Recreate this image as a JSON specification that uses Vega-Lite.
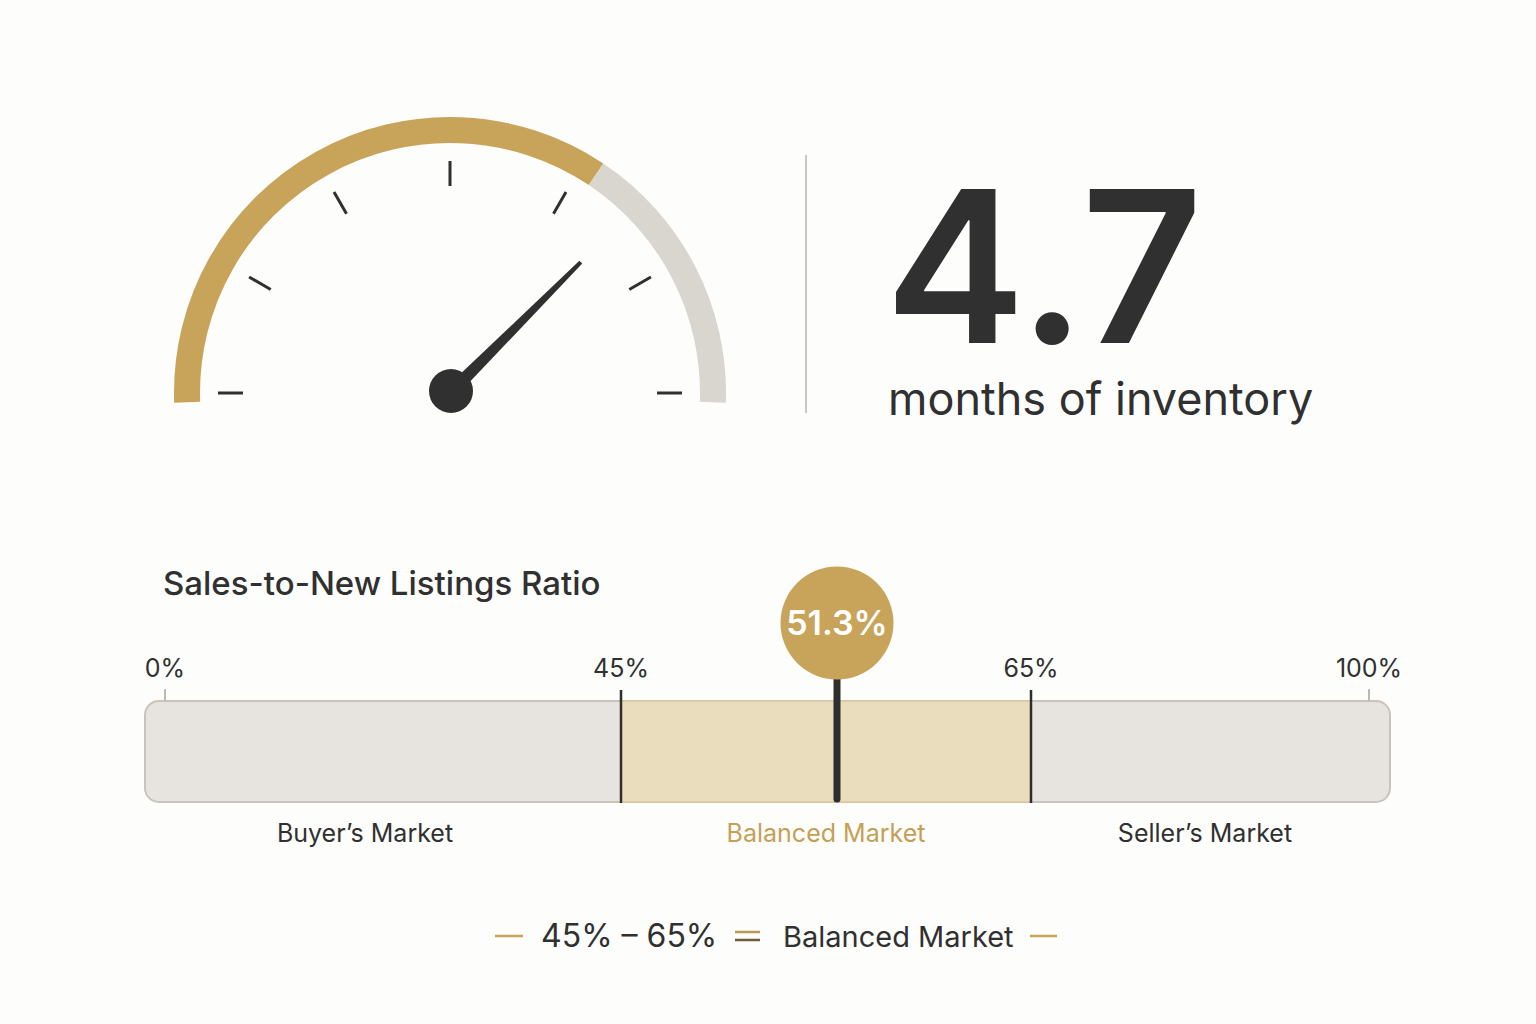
{
  "$schema": "https://vega.github.io/schema/vega-lite/v6.json",
  "width": 1536,
  "height": 1024,
  "padding": 0,
  "autosize": {"type": "fit", "contains": "padding"},
  "background": "#fdfdfc",
  "config": {"view": {"stroke": null}, "font": "Inter", "text": {"font": "Inter"}},
  "datasets": {
    "gauge_arc": [
      {"segment": "filled", "from": 0, "to": 4.1},
      {"segment": "remaining", "from": 4.1, "to": 6}
    ],
    "gauge_ticks": [
      {"months": 0}, {"months": 1}, {"months": 2}, {"months": 3}, {"months": 4}, {"months": 5}, {"months": 6}
    ],
    "inventory": [
      {"metric": "months of inventory", "value": 4.7, "needle": 4.5}
    ],
    "zones": [
      {"zone": "Buyer’s Market", "from": 0, "to": 45},
      {"zone": "Balanced Market", "from": 45, "to": 65},
      {"zone": "Seller’s Market", "from": 65, "to": 100}
    ],
    "breaks": [
      {"pct": 0, "label": "0%", "kind": "end"},
      {"pct": 45, "label": "45%", "kind": "threshold"},
      {"pct": 65, "label": "65%", "kind": "threshold"},
      {"pct": 100, "label": "100%", "kind": "end"}
    ],
    "ratio": [
      {"metric": "Sales-to-New Listings Ratio", "value": 51.3}
    ],
    "key": [
      {"range": "45% – 65%", "meaning": "Balanced Market"}
    ]
  },
  "layer": [
    {
      "layer": [
        {
          "data": {"name": "gauge_arc"},
          "mark": {"type": "arc", "innerRadius": 250, "outerRadius": 276},
          "encoding": {
            "x": {"datum": 450, "type": "quantitative", "scale": {"domain": [0, 1536], "nice": false, "zero": false}, "axis": null},
            "y": {"datum": 393, "type": "quantitative", "scale": {"domain": [0, 1024], "nice": false, "zero": false, "reverse": true}, "axis": null},
            "theta": {"field": "from", "type": "quantitative", "stack": null, "scale": {"domain": [0, 6], "range": [-1.6057, 1.6057]}},
            "theta2": {"field": "to"},
            "color": {"field": "segment", "type": "nominal", "scale": {"domain": ["filled", "remaining"], "range": ["#c8a45a", "#d9d5cf"]}, "legend": null}
          }
        },
        {
          "data": {"name": "gauge_ticks"},
          "mark": {"type": "arc", "innerRadius": 207, "outerRadius": 232, "filled": false, "stroke": "#303030", "strokeWidth": 3},
          "encoding": {
            "x": {"datum": 450, "type": "quantitative", "scale": {"domain": [0, 1536], "nice": false, "zero": false}, "axis": null},
            "y": {"datum": 393, "type": "quantitative", "scale": {"domain": [0, 1024], "nice": false, "zero": false, "reverse": true}, "axis": null},
            "theta": {"field": "months", "type": "quantitative", "stack": null, "scale": {"domain": [0, 6], "range": [-1.5708, 1.5708]}},
            "theta2": {"field": "months"}
          }
        },
        {
          "data": {"name": "inventory"},
          "mark": {"type": "point", "shape": "M -0.036 0 L -0.011 -1 L 0.011 -1 L 0.036 0 Z", "size": 136900, "filled": true, "color": "#303030", "strokeWidth": 0, "opacity": 1},
          "encoding": {
            "x": {"datum": 450, "type": "quantitative", "scale": {"domain": [0, 1536], "nice": false, "zero": false}, "axis": null},
            "y": {"datum": 393, "type": "quantitative", "scale": {"domain": [0, 1024], "nice": false, "zero": false, "reverse": true}, "axis": null},
            "angle": {"field": "needle", "type": "quantitative", "scale": {"domain": [0, 6], "range": [-90, 90]}}
          }
        },
        {
          "data": {"name": "inventory"},
          "mark": {"type": "point", "shape": "circle", "size": 1936, "filled": true, "color": "#303030", "strokeWidth": 0, "opacity": 1},
          "encoding": {
            "x": {"datum": 451, "type": "quantitative", "scale": {"domain": [0, 1536], "nice": false, "zero": false}, "axis": null},
            "y": {"datum": 391, "type": "quantitative", "scale": {"domain": [0, 1024], "nice": false, "zero": false, "reverse": true}, "axis": null}
          }
        },
        {
          "data": {"name": "inventory"},
          "mark": {"type": "rule", "stroke": "#cbc7c0", "strokeWidth": 2},
          "encoding": {
            "x": {"datum": 806, "type": "quantitative", "scale": {"domain": [0, 1536], "nice": false, "zero": false}, "axis": null},
            "y": {"datum": 155, "type": "quantitative", "scale": {"domain": [0, 1024], "nice": false, "zero": false, "reverse": true}, "axis": null},
            "y2": {"datum": 413}
          }
        },
        {
          "data": {"name": "inventory"},
          "mark": {"type": "text", "align": "left", "baseline": "alphabetic", "fontSize": 211, "fontWeight": 600, "color": "#303030"},
          "encoding": {
            "x": {"datum": 885, "type": "quantitative", "scale": {"domain": [0, 1536], "nice": false, "zero": false}, "axis": null},
            "y": {"datum": 343, "type": "quantitative", "scale": {"domain": [0, 1024], "nice": false, "zero": false, "reverse": true}, "axis": null},
            "text": {"field": "value", "type": "quantitative", "format": ".1f"}
          }
        },
        {
          "data": {"name": "inventory"},
          "mark": {"type": "text", "align": "left", "baseline": "alphabetic", "fontSize": 45, "fontWeight": 400, "color": "#303030"},
          "encoding": {
            "x": {"datum": 888, "type": "quantitative", "scale": {"domain": [0, 1536], "nice": false, "zero": false}, "axis": null},
            "y": {"datum": 415, "type": "quantitative", "scale": {"domain": [0, 1024], "nice": false, "zero": false, "reverse": true}, "axis": null},
            "text": {"field": "metric"}
          }
        },
        {
          "data": {"name": "ratio"},
          "mark": {"type": "text", "align": "left", "baseline": "alphabetic", "fontSize": 33, "fontWeight": 500, "color": "#303030"},
          "encoding": {
            "x": {"datum": 163, "type": "quantitative", "scale": {"domain": [0, 1536], "nice": false, "zero": false}, "axis": null},
            "y": {"datum": 595, "type": "quantitative", "scale": {"domain": [0, 1024], "nice": false, "zero": false, "reverse": true}, "axis": null},
            "text": {"field": "metric"}
          }
        },
        {
          "data": {"name": "key"},
          "mark": {"type": "rule", "stroke": "#c8a45a", "strokeWidth": 2.5},
          "encoding": {
            "x": {"datum": 495, "type": "quantitative", "scale": {"domain": [0, 1536], "nice": false, "zero": false}, "axis": null},
            "x2": {"datum": 523},
            "y": {"datum": 936, "type": "quantitative", "scale": {"domain": [0, 1024], "nice": false, "zero": false, "reverse": true}, "axis": null}
          }
        },
        {
          "data": {"name": "key"},
          "mark": {"type": "rule", "stroke": "#c8a45a", "strokeWidth": 2.5},
          "encoding": {
            "x": {"datum": 1030, "type": "quantitative", "scale": {"domain": [0, 1536], "nice": false, "zero": false}, "axis": null},
            "x2": {"datum": 1057},
            "y": {"datum": 936, "type": "quantitative", "scale": {"domain": [0, 1024], "nice": false, "zero": false, "reverse": true}, "axis": null}
          }
        },
        {
          "data": {"name": "key"},
          "mark": {"type": "rule", "stroke": "#b89a58", "strokeWidth": 2.5},
          "encoding": {
            "x": {"datum": 735, "type": "quantitative", "scale": {"domain": [0, 1536], "nice": false, "zero": false}, "axis": null},
            "x2": {"datum": 760},
            "y": {"datum": 932, "type": "quantitative", "scale": {"domain": [0, 1024], "nice": false, "zero": false, "reverse": true}, "axis": null}
          }
        },
        {
          "data": {"name": "key"},
          "mark": {"type": "rule", "stroke": "#6e5d38", "strokeWidth": 2.5},
          "encoding": {
            "x": {"datum": 735, "type": "quantitative", "scale": {"domain": [0, 1536], "nice": false, "zero": false}, "axis": null},
            "x2": {"datum": 760},
            "y": {"datum": 940, "type": "quantitative", "scale": {"domain": [0, 1024], "nice": false, "zero": false, "reverse": true}, "axis": null}
          }
        },
        {
          "data": {"name": "key"},
          "mark": {"type": "text", "align": "left", "baseline": "alphabetic", "fontSize": 32, "fontWeight": 400, "color": "#303030"},
          "encoding": {
            "x": {"datum": 541, "type": "quantitative", "scale": {"domain": [0, 1536], "nice": false, "zero": false}, "axis": null},
            "y": {"datum": 947, "type": "quantitative", "scale": {"domain": [0, 1024], "nice": false, "zero": false, "reverse": true}, "axis": null},
            "text": {"field": "range"}
          }
        },
        {
          "data": {"name": "key"},
          "mark": {"type": "text", "align": "left", "baseline": "alphabetic", "fontSize": 29, "fontWeight": 400, "color": "#303030"},
          "encoding": {
            "x": {"datum": 783, "type": "quantitative", "scale": {"domain": [0, 1536], "nice": false, "zero": false}, "axis": null},
            "y": {"datum": 947, "type": "quantitative", "scale": {"domain": [0, 1024], "nice": false, "zero": false, "reverse": true}, "axis": null},
            "text": {"field": "meaning"}
          }
        }
      ],
      "resolve": {"scale": {"theta": "independent"}}
    },
    {
      "layer": [
        {
          "data": {"name": "zones"},
          "mark": {"type": "rect", "fill": "#e7e4df", "stroke": "#c8c3bb", "strokeWidth": 2, "cornerRadius": 14, "xOffset": -20, "x2Offset": 21},
          "encoding": {
            "x": {"aggregate": "min", "field": "from", "type": "quantitative", "scale": {"domain": [0, 45, 51.3, 65, 100], "range": [165, 621, 837, 1031, 1369], "nice": false, "zero": false}, "axis": null},
            "x2": {"aggregate": "max", "field": "to"},
            "y": {"datum": 701, "type": "quantitative", "scale": {"domain": [0, 1024], "nice": false, "zero": false, "reverse": true}, "axis": null},
            "y2": {"datum": 802}
          }
        },
        {
          "data": {"name": "zones"},
          "transform": [{"filter": "datum.zone === 'Balanced Market'"}],
          "mark": {"type": "rect", "fill": "#e9ddbd", "stroke": "#d8c9a2", "strokeWidth": 1.5},
          "encoding": {
            "x": {"field": "from", "type": "quantitative", "scale": {"domain": [0, 45, 51.3, 65, 100], "range": [165, 621, 837, 1031, 1369], "nice": false, "zero": false}, "axis": null},
            "x2": {"field": "to"},
            "y": {"datum": 701, "type": "quantitative", "scale": {"domain": [0, 1024], "nice": false, "zero": false, "reverse": true}, "axis": null},
            "y2": {"datum": 802}
          }
        },
        {
          "data": {"name": "breaks"},
          "transform": [{"filter": "datum.kind === 'threshold'"}],
          "mark": {"type": "rule", "stroke": "#2e2e2e", "strokeWidth": 2.5},
          "encoding": {
            "x": {"field": "pct", "type": "quantitative", "scale": {"domain": [0, 45, 51.3, 65, 100], "range": [165, 621, 837, 1031, 1369], "nice": false, "zero": false}, "axis": null},
            "y": {"datum": 690, "type": "quantitative", "scale": {"domain": [0, 1024], "nice": false, "zero": false, "reverse": true}, "axis": null},
            "y2": {"datum": 803}
          }
        },
        {
          "data": {"name": "breaks"},
          "transform": [{"filter": "datum.kind === 'end'"}],
          "mark": {"type": "rule", "stroke": "#bdb8b0", "strokeWidth": 2},
          "encoding": {
            "x": {"field": "pct", "type": "quantitative", "scale": {"domain": [0, 45, 51.3, 65, 100], "range": [165, 621, 837, 1031, 1369], "nice": false, "zero": false}, "axis": null},
            "y": {"datum": 689, "type": "quantitative", "scale": {"domain": [0, 1024], "nice": false, "zero": false, "reverse": true}, "axis": null},
            "y2": {"datum": 701}
          }
        },
        {
          "data": {"name": "breaks"},
          "mark": {"type": "text", "align": "center", "baseline": "alphabetic", "fontSize": 25, "color": "#303030"},
          "encoding": {
            "x": {"field": "pct", "type": "quantitative", "scale": {"domain": [0, 45, 51.3, 65, 100], "range": [165, 621, 837, 1031, 1369], "nice": false, "zero": false}, "axis": null},
            "y": {"datum": 677, "type": "quantitative", "scale": {"domain": [0, 1024], "nice": false, "zero": false, "reverse": true}, "axis": null},
            "text": {"field": "label"}
          }
        },
        {
          "data": {"name": "ratio"},
          "mark": {"type": "rule", "stroke": "#2e2e2e", "strokeWidth": 7, "strokeCap": "round"},
          "encoding": {
            "x": {"field": "value", "type": "quantitative", "scale": {"domain": [0, 45, 51.3, 65, 100], "range": [165, 621, 837, 1031, 1369], "nice": false, "zero": false}, "axis": null},
            "y": {"datum": 676, "type": "quantitative", "scale": {"domain": [0, 1024], "nice": false, "zero": false, "reverse": true}, "axis": null},
            "y2": {"datum": 799}
          }
        },
        {
          "data": {"name": "ratio"},
          "mark": {"type": "point", "shape": "circle", "size": 12769, "filled": true, "color": "#c8a45a", "strokeWidth": 0, "opacity": 1},
          "encoding": {
            "x": {"field": "value", "type": "quantitative", "scale": {"domain": [0, 45, 51.3, 65, 100], "range": [165, 621, 837, 1031, 1369], "nice": false, "zero": false}, "axis": null},
            "y": {"datum": 623, "type": "quantitative", "scale": {"domain": [0, 1024], "nice": false, "zero": false, "reverse": true}, "axis": null}
          }
        },
        {
          "data": {"name": "ratio"},
          "transform": [{"calculate": "format(datum.value, '.1f') + '%'", "as": "label"}],
          "mark": {"type": "text", "align": "center", "baseline": "middle", "fontSize": 34, "fontWeight": 600, "color": "#ffffff"},
          "encoding": {
            "x": {"field": "value", "type": "quantitative", "scale": {"domain": [0, 45, 51.3, 65, 100], "range": [165, 621, 837, 1031, 1369], "nice": false, "zero": false}, "axis": null},
            "y": {"datum": 625, "type": "quantitative", "scale": {"domain": [0, 1024], "nice": false, "zero": false, "reverse": true}, "axis": null},
            "text": {"field": "label"}
          }
        }
      ]
    },
    {
      "data": {"name": "zones"},
      "transform": [{"calculate": "(datum.from + datum.to) / 2", "as": "mid"}],
      "mark": {"type": "text", "align": "center", "baseline": "alphabetic", "fontSize": 25},
      "encoding": {
        "x": {"field": "mid", "type": "quantitative", "scale": {"domain": [0, 45, 65, 100], "range": [109, 621, 1031, 1379], "nice": false, "zero": false}, "axis": null},
        "y": {"datum": 842, "type": "quantitative", "scale": {"domain": [0, 1024], "nice": false, "zero": false, "reverse": true}, "axis": null},
        "text": {"field": "zone"},
        "color": {"field": "zone", "type": "nominal", "scale": {"domain": ["Buyer’s Market", "Balanced Market", "Seller’s Market"], "range": ["#303030", "#c4a055", "#303030"]}, "legend": null}
      }
    }
  ],
  "resolve": {"scale": {"x": "independent", "y": "independent", "color": "independent", "theta": "independent"}}
}
